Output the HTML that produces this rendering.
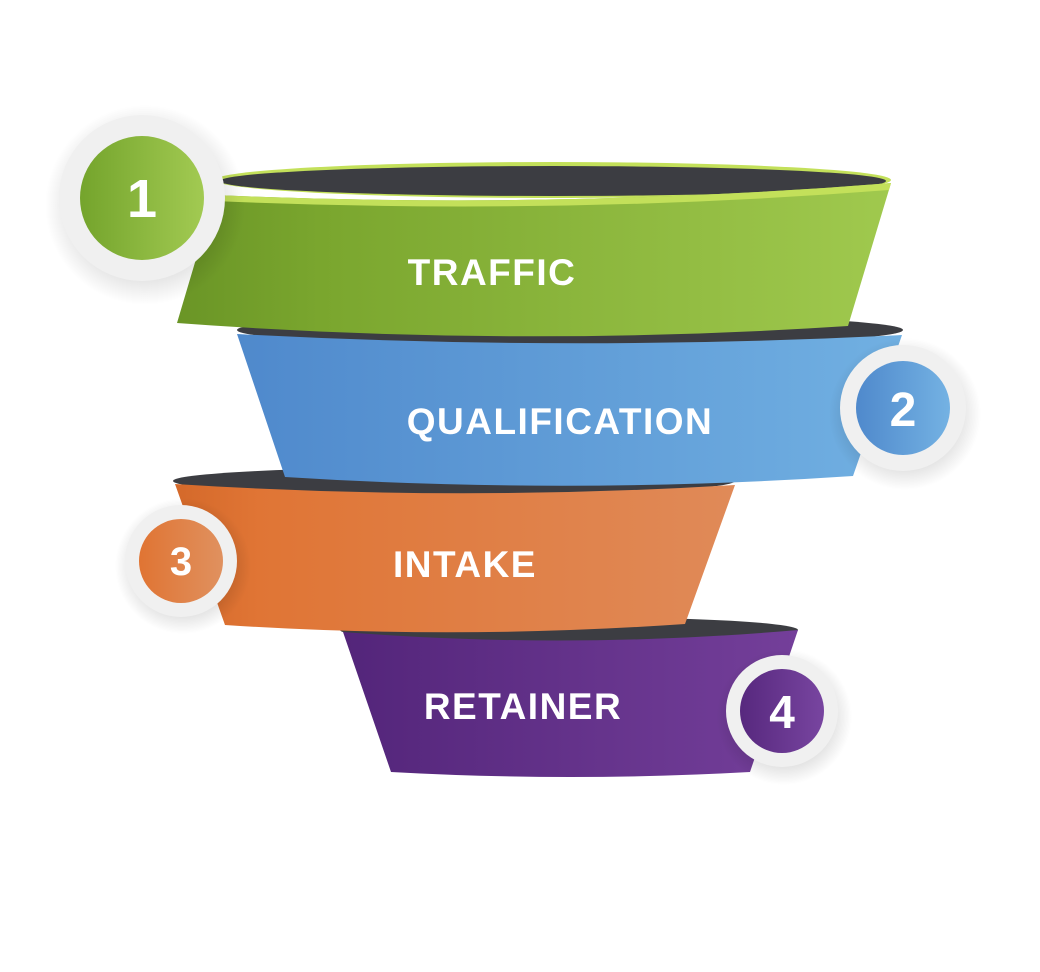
<!DOCTYPE html>
<html><head><meta charset="utf-8"><style>
html,body{margin:0;padding:0;background:#fff;}
svg{display:block}
text{font-family:"Liberation Sans",sans-serif;font-weight:bold;fill:#fff;}
</style></head><body>
<svg width="1040" height="972" viewBox="0 0 1040 972" xmlns="http://www.w3.org/2000/svg">
<defs>
<linearGradient id="g1" x1="0" x2="1"><stop offset="0" stop-color="#6a9526"/><stop offset="0.2" stop-color="#7aa62e"/><stop offset="1" stop-color="#a0c94e"/></linearGradient>
<linearGradient id="g2" x1="0" x2="1"><stop offset="0" stop-color="#4f89cc"/><stop offset="1" stop-color="#71b0e2"/></linearGradient>
<linearGradient id="g3" x1="0" x2="1"><stop offset="0" stop-color="#d4692a"/><stop offset="0.15" stop-color="#e07535"/><stop offset="1" stop-color="#e08a58"/></linearGradient>
<linearGradient id="g4" x1="0" x2="1"><stop offset="0" stop-color="#53257a"/><stop offset="1" stop-color="#743f9a"/></linearGradient>
<linearGradient id="c1" x1="0" x2="1"><stop offset="0" stop-color="#74a42c"/><stop offset="1" stop-color="#a2ca52"/></linearGradient>
<linearGradient id="c2" x1="0" x2="1"><stop offset="0" stop-color="#4f89cc"/><stop offset="1" stop-color="#74b2e3"/></linearGradient>
<linearGradient id="c3" x1="0" x2="1"><stop offset="0" stop-color="#e07433"/><stop offset="1" stop-color="#e0915f"/></linearGradient>
<linearGradient id="c4" x1="0" x2="1"><stop offset="0" stop-color="#57287e"/><stop offset="1" stop-color="#7845a0"/></linearGradient>
<radialGradient id="sh"><stop offset="0.7" stop-color="#000" stop-opacity="0.12"/><stop offset="1" stop-color="#000" stop-opacity="0"/></radialGradient>
</defs>

<ellipse cx="569" cy="630" rx="229" ry="13" fill="#3c3d42"/>
<path d="M343,632 Q570,650 798,630 L750,772 Q570,782 391,772 Z" fill="url(#g4)"/>
<ellipse cx="454" cy="481" rx="281" ry="14" fill="#3c3d42"/>
<path d="M175,484 Q455,502 735,485 L685,624 Q455,640 225,625 Z" fill="url(#g3)"/>
<ellipse cx="570" cy="330" rx="333" ry="16" fill="#3c3d42"/>
<path d="M237,334 Q570,352 902,335 L853,476 Q570,495 285,477 Z" fill="url(#g2)"/>
<ellipse cx="553" cy="180" rx="338" ry="18" fill="#c3e05a"/>
<ellipse cx="553" cy="181" rx="333" ry="15" fill="#3c3d42"/>
<path d="M215,195 Q555,210 891,183 L848,326 Q512,348 177,323 Z" fill="url(#g1)"/>
<path d="M215,195 Q555,210 891,183 L889,190 Q555,216 215,201 Z" fill="#c3e05a"/>

<text x="492" y="285" font-size="37" letter-spacing="1.5" text-anchor="middle">TRAFFIC</text>
<text x="560" y="434" font-size="37" letter-spacing="1.5" text-anchor="middle">QUALIFICATION</text>
<text x="465" y="577" font-size="37" letter-spacing="1.5" text-anchor="middle">INTAKE</text>
<text x="523" y="719" font-size="37" letter-spacing="1.5" text-anchor="middle">RETAINER</text>

<circle cx="145" cy="205" r="100" fill="url(#sh)"/>
<circle cx="142" cy="198" r="83" fill="#f0f0f0"/>
<circle cx="142" cy="198" r="62" fill="url(#c1)"/>
<text x="142" y="217" font-size="54" text-anchor="middle">1</text>

<circle cx="905" cy="414" r="76" fill="url(#sh)"/>
<circle cx="903" cy="408" r="63" fill="#f0f0f0"/>
<circle cx="903" cy="408" r="47" fill="url(#c2)"/>
<text x="903" y="426" font-size="48" text-anchor="middle">2</text>

<circle cx="183" cy="566" r="68" fill="url(#sh)"/>
<circle cx="181" cy="561" r="56" fill="#f0f0f0"/>
<circle cx="181" cy="561" r="42" fill="url(#c3)"/>
<text x="181" y="575" font-size="40" text-anchor="middle">3</text>

<circle cx="784" cy="717" r="68" fill="url(#sh)"/>
<circle cx="782" cy="711" r="56" fill="#f0f0f0"/>
<circle cx="782" cy="711" r="42" fill="url(#c4)"/>
<text x="782" y="728" font-size="46" text-anchor="middle">4</text>
</svg>
</body></html>
